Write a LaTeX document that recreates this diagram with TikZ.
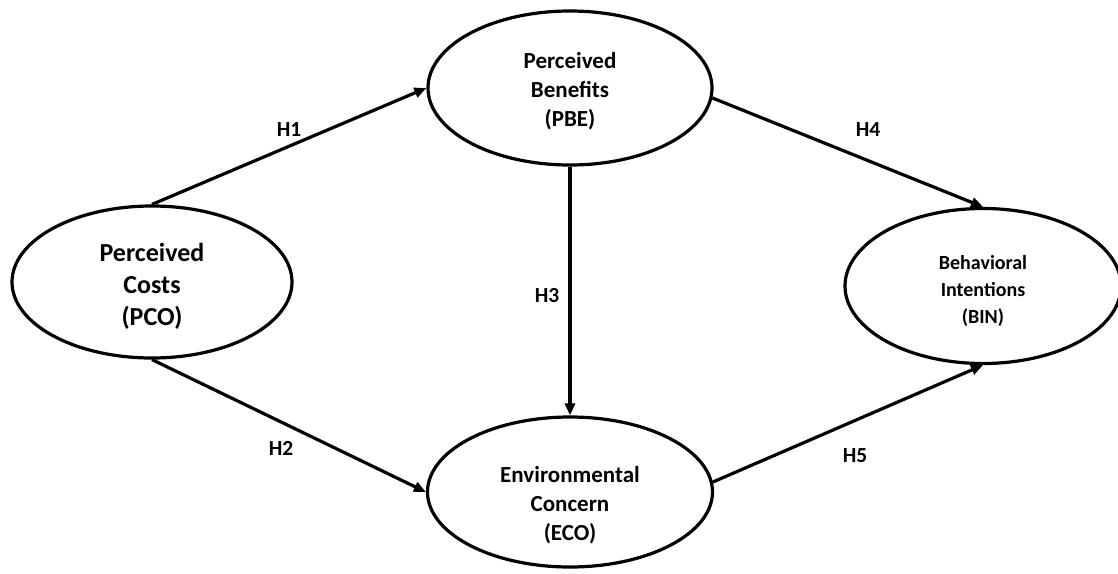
\documentclass[tikz,border=0pt]{standalone}
\usepackage{fontspec}
\setmainfont{Carlito}
\usetikzlibrary{shapes.geometric,arrows.meta}
\newcommand\lowtext[2]{\raisebox{-#1}[\height][\depth]{\begin{tabular}{@{}c@{}}#2\end{tabular}}}
\tikzset{
  construct/.style={ellipse, draw, line width=3.2pt, inner sep=0pt, font=\bfseries},
  link/.style={line width=3.2pt, -{Triangle[length=12pt,width=10pt]}},
  hyp/.style={font=\bfseries\fontsize{21.5}{24}\selectfont, inner sep=0pt}
}
\begin{document}
\begin{tikzpicture}[x=1pt,y=-1pt]
\useasboundingbox (0,0) rectangle (1118,573);
\node[construct, minimum width=280pt, minimum height=152pt, font=\bfseries\fontsize{26}{32}\selectfont] (pco) at (152,282) {\lowtext{5pt}{Perceived\\Costs\\(PCO)}};
\node[construct, minimum width=284pt, minimum height=154pt, font=\bfseries\fontsize{23}{29}\selectfont] (pbe) at (570,88) {\lowtext{4pt}{Perceived\\Benefits\\(PBE)}};
\node[construct, minimum width=285pt, minimum height=150pt, font=\bfseries\fontsize{23}{29}\selectfont] (eco) at (570,492) {\lowtext{14pt}{Environmental\\Concern\\(ECO)}};
\node[construct, minimum width=276pt, minimum height=155pt, font=\bfseries\fontsize{20}{27}\selectfont] (bin) at (983,286) {\lowtext{5pt}{Behavioral\\Intentions\\(BIN)}};
\draw[link] (pco.north) -- (pbe.west);
\draw[link] (pco.south) -- (eco.west);
\draw[link] (pbe.south) -- (eco.north);
\draw[link] (pbe.-4) -- (bin.north);
\draw[link] (eco.4) -- (bin.south);
\node[hyp] (h1) at (289,130) {H1};
\node[hyp] (h2) at (281,448) {H2};
\node[hyp] (h3) at (547,296) {H3};
\node[hyp] (h4) at (868,130) {H4};
\node[hyp] (h5) at (855,456) {H5};
\end{tikzpicture}
\end{document}
